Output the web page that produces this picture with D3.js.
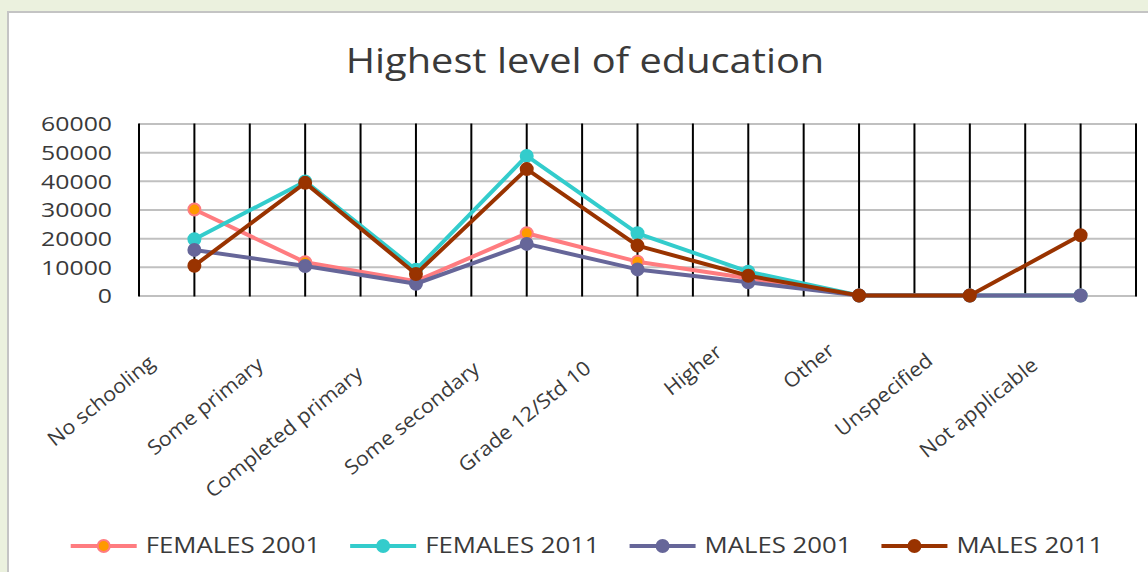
<!DOCTYPE html>
<html>
<head>
<meta charset="utf-8">
<script src="https://cdn.jsdelivr.net/npm/d3@7"></script>
<style>
  html, body { margin: 0; padding: 0; background: #ebf1de; }
  svg { display: block; }
  text { font-family: "Open Sans", "Noto Sans", sans-serif; fill: #3a3a3a; }
</style>
</head>
<body>
<svg id="chart" width="1148" height="572"></svg>
<script>
// Education levels on the category axis
const categories = ["No schooling", "Some primary", "Completed primary", "Some secondary",
  "Grade 12/Std 10", "Higher", "Other", "Unspecified", "Not applicable"];

// Head counts per education level
const females2001 = [30000, 11600, 5000, 21700, 11800, 6000, 0, 0, 0];
const females2011 = [19600, 39800, 9000, 48700, 21700, 8300, 0, 0, 0];
const males2001   = [15900, 10300, 4100, 18000, 9100, 4600, 0, 0, 0];
const males2011   = [10400, 39300, 7500, 44100, 17400, 6900, 0, 0, 21000];

const seriesNames = ["FEMALES 2001", "FEMALES 2011", "MALES 2001", "MALES 2011"];
const yTicks = [0, 10000, 20000, 30000, 40000, 50000, 60000];

const series = [
  { name: seriesNames[0], values: females2001, stroke: "#ff7c80", fill: "#ff9900" },
  { name: seriesNames[1], values: females2011, stroke: "#33cccc", fill: "#33cccc" },
  { name: seriesNames[2], values: males2001,   stroke: "#666699", fill: "#666699" },
  { name: seriesNames[3], values: males2011,   stroke: "#993300", fill: "#993300" }
];

const svg = d3.select("#chart");

// widen text horizontally by a factor, keeping its font size
function widen(sel, factor) {
  sel.each(function () {
    const w = this.getComputedTextLength();
    d3.select(this).attr("textLength", w * factor).attr("lengthAdjust", "spacingAndGlyphs");
  });
}

// chart area panel
svg.append("rect")
  .attr("x", 8).attr("y", 12).attr("width", 1160).attr("height", 600)
  .attr("fill", "#ffffff").attr("stroke", "#c4c4c4").attr("stroke-width", 2);

// title
svg.append("text")
  .attr("x", 585).attr("y", 73)
  .attr("text-anchor", "middle")
  .attr("font-size", 34)
  .text("Highest level of education")
  .call(widen, 1.17);

const plot = { left: 139, right: 1136, top: 123.5, bottom: 295.5 };

const x = d3.scaleBand().domain(categories).range([plot.left, plot.right]);
const cx = c => x(c) + x.bandwidth() / 2;
const y = d3.scaleLinear().domain([0, 60000]).range([plot.bottom, plot.top]);

// horizontal gridlines
const yAxis = d3.axisLeft(y).tickValues(yTicks).tickSize(-(plot.right - plot.left + 1)).tickFormat(d => d);
const gy = svg.append("g").attr("transform", `translate(${plot.left},0)`).call(yAxis);
gy.select(".domain").remove();
gy.selectAll(".tick line").attr("stroke", "#c0c0c0").attr("stroke-width", 2);
gy.selectAll(".tick text")
  .attr("x", 112 - plot.left).attr("dy", "0.36em")
  .attr("font-size", 20).attr("fill", "#3a3a3a")
  .attr("font-family", "'Open Sans', sans-serif")
  .call(widen, 1.24);

// vertical lines at category edges and centres
const vx = [];
categories.forEach(c => { vx.push(x(c)); vx.push(cx(c)); });
vx.push(plot.right);
svg.append("g").selectAll("line").data(vx).join("line")
  .attr("x1", d => d).attr("x2", d => d)
  .attr("y1", plot.top).attr("y2", plot.bottom + 1)
  .attr("stroke", "#000").attr("stroke-width", 2);

// category labels, rotated
const angle = -39;
const labelG = svg.append("g");
categories.forEach(c => {
  const g = labelG.append("g").attr("transform", `translate(${cx(c)},334) rotate(${angle})`);
  const t = g.append("text").attr("text-anchor", "end").attr("font-size", 20).text(c);
  widen(t, 1.08);
  const L = +t.attr("textLength");
  t.attr("x", -(0.27 * L + 14));
});

// series lines and markers
const line = d3.line().x((d, i) => cx(categories[i])).y(d => y(d));
series.forEach(s => {
  const g = svg.append("g");
  g.append("path").datum(s.values)
    .attr("d", line).attr("fill", "none")
    .attr("stroke", s.stroke).attr("stroke-width", 4).attr("stroke-linejoin", "round");
  g.selectAll("circle").data(s.values).join("circle")
    .attr("cx", (d, i) => cx(categories[i])).attr("cy", d => y(d))
    .attr("r", 6).attr("fill", s.fill)
    .attr("stroke", s.stroke).attr("stroke-width", 2);
});

// legend
const legY = 546;
const leg = svg.append("g");
let cursor = 0;
series.forEach(s => {
  const g = leg.append("g");
  g.append("line").attr("x1", 0).attr("x2", 66).attr("y1", legY).attr("y2", legY)
    .attr("stroke", s.stroke).attr("stroke-width", 4);
  g.append("circle").attr("cx", 33).attr("cy", legY).attr("r", 6)
    .attr("fill", s.fill).attr("stroke", s.stroke).attr("stroke-width", 2);
  const t = g.append("text").attr("x", 75).attr("y", legY + 7).attr("font-size", 22).text(s.name);
  widen(t, 1.17);
  const w = 75 + (+t.attr("textLength"));
  g.attr("transform", `translate(${cursor},0)`);
  cursor += w + 30;
});
const totalW = cursor - 30;
leg.attr("transform", `translate(${587 - totalW / 2},0)`);
</script>
</body>
</html>
